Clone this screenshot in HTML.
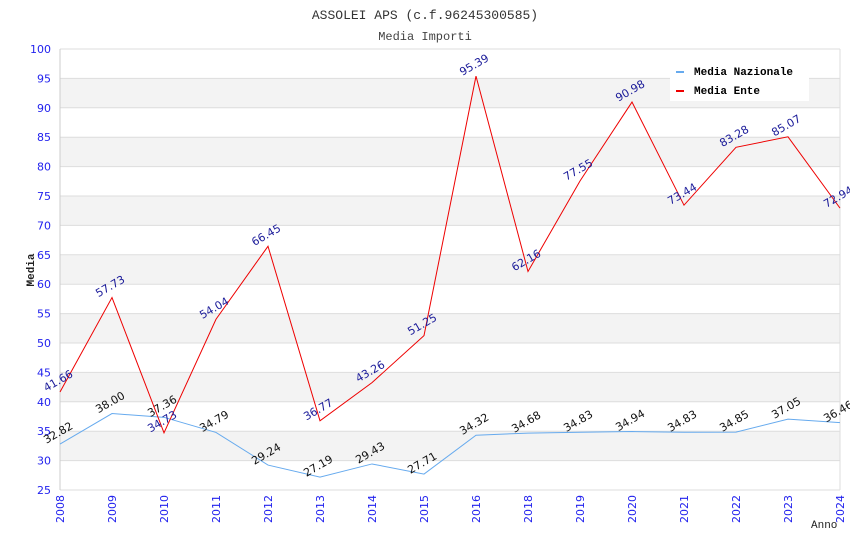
<!DOCTYPE html>
<html><head><meta charset="utf-8"><style>
body{margin:0;background:#fff;}
svg text{font-family:"DejaVu Sans","Liberation Sans",sans-serif;}
.mono{font-family:"Liberation Mono","DejaVu Sans Mono",monospace;}
</style></head><body>
<svg id="chart" width="850" height="550" xmlns="http://www.w3.org/2000/svg">
<text class="mono" x="425" y="19" text-anchor="middle" font-size="13" fill="#333">ASSOLEI APS (c.f.96245300585)</text>
<text class="mono" x="425" y="40" text-anchor="middle" font-size="12" fill="#444">Media Importi</text>
<g id="grid"></g>
<g id="axes"></g>
<g id="series"></g>
<text class="mono" transform="translate(34,270) rotate(-90)" text-anchor="middle" font-size="11" font-weight="bold" fill="#222">Media</text>
<text class="mono" x="811" y="528" font-size="11" fill="#222">Anno</text>
<g>
<rect x="670" y="60" width="139" height="41" fill="#fff"/>
<rect x="676" y="71" width="8" height="2" fill="#66aaee"/>
<text class="mono" x="694" y="75" font-size="11" font-weight="bold" fill="#000">Media Nazionale</text>
<rect x="676" y="90" width="8" height="2" fill="#ee0000"/>
<text class="mono" x="694" y="94" font-size="11" font-weight="bold" fill="#000">Media Ente</text>
</g>
</svg>
<script>
const categories=["2008","2009","2010","2011","2012","2013","2014","2015","2016","2018","2019","2020","2021","2022","2023","2024"];
const nazionale=[32.82,38.00,37.36,34.79,29.24,27.19,29.43,27.71,34.32,34.68,34.83,34.94,34.83,34.85,37.05,36.46];
const ente=[41.66,57.73,34.73,54.04,66.45,36.77,43.26,51.25,95.39,62.16,77.55,90.98,73.44,83.28,85.07,72.94];
const yTicks=[25,30,35,40,45,50,55,60,65,70,75,80,85,90,95,100];
const NS="http://www.w3.org/2000/svg";
const X0=60,X1=840,Y0=490,Y1=49,YMIN=25,YMAX=100;
const xs=i=>X0+i*(X1-X0)/(categories.length-1);
const ys=v=>Y0-(v-YMIN)/(YMAX-YMIN)*(Y0-Y1);
function mk(tag,attrs,parent){const e=document.createElementNS(NS,tag);for(const k in attrs)e.setAttribute(k,attrs[k]);parent.appendChild(e);return e;}
const grid=document.getElementById('grid'),axes=document.getElementById('axes'),series=document.getElementById('series');
for(let i=0;i<yTicks.length-1;i++){
  const a=yTicks[i],b=yTicks[i+1];
  if(i%2===1){const r=mk('rect',{x:X0,y:ys(b),width:X1-X0,height:ys(a)-ys(b),fill:'#f3f3f3'},grid);
  
  }
}
yTicks.forEach(t=>{
  const l=mk('line',{x1:X0,x2:X1,y1:ys(t),y2:ys(t),stroke:'#dddddd','stroke-width':1},grid);
  
  
  const tx=mk('text',{x:X0-9,y:ys(t)+4,'text-anchor':'end','font-size':11,fill:'#2222ee'},axes);
  tx.textContent=t;
  
  
});
const yl=mk('line',{x1:X0,x2:X0,y1:Y1,y2:Y0,stroke:'#cccccc'},axes);


const rl=mk('line',{x1:X1,x2:X1,y1:Y1,y2:Y0,stroke:'#dddddd'},axes);


categories.forEach((c,i)=>{
  const tx=mk('text',{transform:`translate(${xs(i)+4},${Y0+5}) rotate(-90)`,'text-anchor':'end','font-size':11,fill:'#2222ee'},axes);
  tx.textContent=c;
  
  
});
function drawSeries(vals,color,labelColor,name){
  const p=mk('polyline',{points:vals.map((v,i)=>xs(i)+','+ys(v)).join(' '),fill:'none',stroke:color,'stroke-width':1},series);
  
  
  vals.forEach((v,i)=>{
    const t=mk('text',{transform:`translate(${xs(i)},${ys(v)-8}) rotate(-30)`,'text-anchor':'middle','font-size':11,fill:labelColor},series);
    t.textContent=v.toFixed(2);
    
    
  });
}
drawSeries(nazionale,'#66aaee','#111111','nazionale');
drawSeries(ente,'#ee0000','#1a1a99','ente');
</script>
</body></html>
